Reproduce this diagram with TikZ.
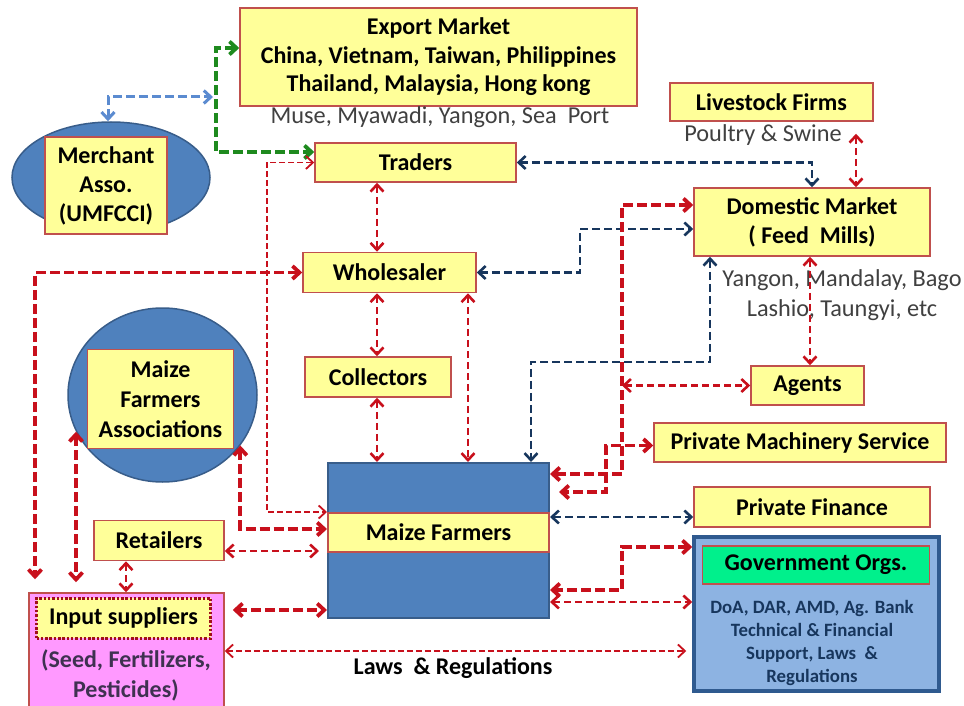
\documentclass[tikz,border=0pt]{standalone}
\usepackage{fontspec}
\setmainfont{Carlito}
\usetikzlibrary{arrows.meta,shapes.geometric}

\definecolor{boxyellow}{HTML}{FFFF99}
\definecolor{boxedge}{HTML}{C0504D}
\definecolor{farmblue}{HTML}{4F81BD}
\definecolor{farmedge}{HTML}{385D8A}
\definecolor{arrred}{HTML}{C8101C}
\definecolor{navy}{HTML}{17365D}
\definecolor{arrgreen}{HTML}{1E8A1E}
\definecolor{lightarr}{HTML}{5B8BD0}
\definecolor{govfill}{HTML}{8DB3E2}
\definecolor{govedge}{HTML}{2F5A8F}
\definecolor{govgreen}{HTML}{00F08C}
\definecolor{inpfill}{HTML}{FF99FF}
\definecolor{inptext}{HTML}{3F3151}
\definecolor{greytext}{HTML}{404040}
\definecolor{dotred}{HTML}{A0101A}

\tikzset{
  ybox/.style={draw=boxedge, fill=boxyellow, line width=1.5pt, inner sep=0pt,
    align=center, font=\fontsize{24}{28.5}\selectfont\bfseries},
  bluebox/.style={draw=farmedge, fill=farmblue, line width=2pt, inner sep=0pt},
  plain/.style={align=center, text=greytext, inner sep=0pt,
    font=\fontsize{24.3}{30}\selectfont},
  >={Straight Barb[length=7pt,width=13pt]},
  rthin/.style={draw=arrred, line width=1.8pt, dash pattern=on 6pt off 3pt},
  rmed/.style={draw=arrred, line width=2.6pt, dash pattern=on 7pt off 4pt},
  rthick/.style={draw=arrred, line width=3.8pt, dash pattern=on 10pt off 4pt},
  nv/.style={draw=navy, line width=2.6pt, dash pattern=on 8pt off 4pt},
  lb/.style={draw=lightarr, line width=3pt, dash pattern=on 9pt off 4pt},
  gr/.style={draw=arrgreen, line width=3.8pt, dash pattern=on 10pt off 4pt},
}

\begin{document}
\begin{tikzpicture}[x=1pt, y=-1pt]
\useasboundingbox[fill=white] (0,0) rectangle (964,706);

% ---- markets and traders ----
\node[ybox, minimum width=397pt, minimum height=98pt] (exp) at (438.5,57)
  {Export Market\\China, Vietnam, Taiwan, Philippines\\Thailand, Malaysia, Hong kong};
\node[plain] (exptxt) at (440,117) {Muse, Myawadi, Yangon, Sea~~Port};

\node[ellipse, draw=farmedge, fill=farmblue, line width=1.5pt,
  minimum width=198pt, minimum height=111pt, inner sep=0pt] (mer) at (111,177.5) {};
\node[ybox, minimum width=122pt, minimum height=97pt, font=\fontsize{24}{29}\selectfont\bfseries]
  (merbox) at (106,185.5) {Merchant\\Asso.\\(UMFCCI)};

\node[ybox, minimum width=201pt, minimum height=39pt] (trad) at (415.5,162.5) {Traders};
\node[ybox, minimum width=203pt, minimum height=38pt] (live) at (771.5,102) {Livestock Firms};
\node[plain] (livetxt) at (763,135) {Poultry \& Swine};

\node[ybox, minimum width=236pt, minimum height=68pt, font=\fontsize{24}{29}\selectfont\bfseries]
  (dom) at (812,222) {Domestic Market\\( Feed~~Mills)};
\node[plain] (domtxt) at (842,295) {Yangon, Mandalay, Bago\\Lashio, Taungyi, etc};

\node[ybox, minimum width=173pt, minimum height=40pt] (whl) at (389.5,272.5) {Wholesaler};
\node[ybox, minimum width=146pt, minimum height=40pt] (col) at (378,377) {Collectors};

\node[ellipse, draw=farmedge, fill=farmblue, line width=1.5pt,
  minimum width=189pt, minimum height=174pt, inner sep=0pt] (mfa) at (162.5,395) {};
\node[ybox, minimum width=146pt, minimum height=99pt, font=\fontsize{24}{30}\selectfont\bfseries]
  (mfabox) at (160.5,399) {Maize\\Farmers\\Associations};

\node[ybox, minimum width=113pt, minimum height=39pt] (agt) at (807.5,385.5) {Agents};
\node[ybox, minimum width=292pt, minimum height=39pt] (pms) at (800,442.5) {Private Machinery Service};

% ---- farmers ----
\node[bluebox, minimum width=221pt, minimum height=155pt] (mf) at (438.5,540.5) {};
\node[ybox, minimum width=221pt, minimum height=39pt] (mfl) at (438.5,532.5) {Maize Farmers};

\node[ybox, minimum width=236pt, minimum height=40pt] (pfin) at (812,507) {Private Finance};

\node[draw=govedge, fill=govfill, line width=3.5pt, minimum width=245pt,
  minimum height=154pt, inner sep=0pt] (gov) at (816.5,614) {};
\node[draw=boxedge, fill=govgreen, line width=1.5pt, minimum width=227pt, minimum height=38pt,
  inner sep=0pt, font=\fontsize{24}{28}\selectfont\bfseries] (govl) at (816,565) {Government Orgs.};
\node[align=center, text=navy, inner sep=0pt, font=\fontsize{18.8}{23.3}\selectfont\bfseries]
  (govtxt) at (812,643) {DoA, DAR, AMD, Ag. Bank\\Technical \& Financial\\Support, Laws~~\&\\Regulations};

% ---- inputs ----
\node[ybox, minimum width=130pt, minimum height=40pt] (ret) at (159,540.5) {Retailers};
\node[draw=boxedge, fill=inpfill, line width=1.5pt, minimum width=195pt, minimum height=123pt,
  inner sep=0pt] (inp) at (126.5,654.5) {};
\node[draw=dotred, fill=boxyellow, line width=3pt, dash pattern=on 2.5pt off 1.8pt,
  minimum width=174pt, minimum height=40pt, inner sep=0pt,
  font=\fontsize{24}{28}\selectfont\bfseries] (inpl) at (123.5,618) {Input suppliers};
\node[align=center, text=inptext, inner sep=0pt, font=\fontsize{24}{30}\selectfont\bfseries]
  (inptxt) at (126,675) {(Seed, Fertilizers,\\Pesticides)};

\node[inner sep=0pt, font=\fontsize{24}{28}\selectfont\bfseries] (laws) at (453,668) {Laws~~\& Regulations};

% ---- connectors ----
\coordinate (gj) at (213,97);
\draw[lb,<->] (mer.north -| 108,0) |- (gj);
\draw[gr,<->] ([yshift=9pt]exp.west) -| (216,152) -- ([yshift=10.5pt]trad.west);
\draw[rthin,<->] (trad.west) -| (267,512) -- (mf.west |- 0,512);
\draw[nv,<->] (trad.east) -| (dom.north);
\draw[rmed,<->,shorten <=12pt] (live.south -| 856,0) -- (dom.north -| 856,0);

\draw[rmed,<->] (trad.south -| 377,0) -- (whl.north -| 377,0);
\draw[rmed,<->] (whl.south -| 377,0) -- (col.north -| 377,0);
\draw[rmed,<->] (col.south -| 377,0) -- (mf.north -| 377,0);
\draw[rmed,<->] (whl.south -| 468,0) -- (mf.north -| 468,0);
\draw[rthick,<->,shorten >=13pt] (whl.west) -| (inp.north -| 35,0);
\draw[nv,<->] (whl.east) -| (580,229) -- (dom.west |- 0,229);

\draw[rthick,<->] ([yshift=17pt]dom.west) -| (622,474) -- (mf.east |- 0,474);
\draw[rmed,<->] (agt.west -| 622,0) -- (agt.west);
\draw[nv,<->] (dom.south -| 710,0) |- (531,362) -- (mf.north -| 531,0);
\draw[rmed,<->] (dom.south -| 810,0) -- (agt.north -| 810,0);
\draw[rthick,<->,shorten >=9pt] ([yshift=-3pt]pms.west) -| (606,492) -- (mf.east |- 0,492);
\draw[nv,<->] (mf.east |- 0,517) -- (pfin.west |- 0,517);
\draw[rthick,<->] (gov.west |- 0,547) -| (622,590) -- (mf.east |- 0,590);
\draw[rmed,<->] (mf.east |- 0,602) -- (gov.west |- 0,602);
\draw[rthin,<->,shorten >=6pt] (inp.east |- 0,651) -- (gov.west |- 0,651);

\draw[rthick,<->,shorten <=8pt] (inp.east |- 0,610) -- (mf.west |- 0,610);
\draw[rmed,<->,shorten >=8pt] (ret.east |- 0,551) -- (mf.west |- 0,551);
\draw[rmed,<->] (ret.south -| 126,0) -- (inp.north -| 126,0);
\draw[rthick,<->,shorten >=10pt] (mfa.203) -- (mfa.203 |- inp.north);
\draw[rthick,<->] (mfa.-33) |- (mf.west |- 0,529);
\end{tikzpicture}
\end{document}
